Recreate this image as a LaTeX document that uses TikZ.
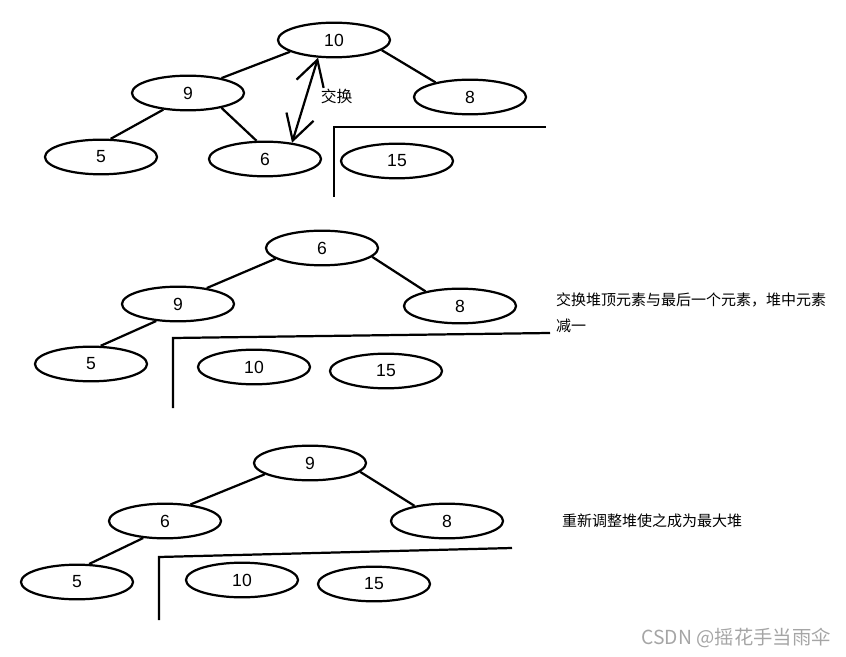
\documentclass[tikz,border=0pt]{standalone}
\usepackage{fontspec}
\usepackage{xcolor}
\setmainfont{Liberation Sans}
\newfontfamily\cjk{Noto Sans CJK SC}
\usetikzlibrary{arrows.meta, shapes.geometric}
\definecolor{markgray}{RGB}{165,165,165}

\begin{document}
\begin{tikzpicture}[
    x=0.03cm, y=-0.03cm,
    font=\fontsize{15}{17}\selectfont,
    heap/.style={ellipse, draw, line width=1.9pt, minimum width=3.36cm,
                 minimum height=1.04cm, inner sep=0pt},
    link/.style={line width=1.9pt},
    exch/.style={line width=1.9pt,
                 {Straight Barb[length=7.5mm, width=8.5mm]}-{Straight Barb[length=7.5mm, width=8.5mm]}},
    wall/.style={line width=1.9pt},
    note/.style={anchor=west, font=\cjk\fontsize{12.8}{22}\selectfont,
                 align=left, inner sep=0pt},
  ]
  \useasboundingbox (0,0) rectangle (846,657);
  % step 1: before the swap
    \node[heap] (a10) at (334,40)  {10};
    \node[heap] (a9)  at (188,93)  {9};
    \node[heap] (a8)  at (470,97)  {8};
    \node[heap] (a5)  at (101,157) {5};
    \node[heap] (a6)  at (265,159) {6};
    \node[heap] (a15) at (397,161) {15};
    \draw[link] (a10.195) -- (a9.24);
    \draw[link] (a10.348) -- (a8.157);
    \draw[link] (a9.214) -- (a5.62);
    \draw[link] (a9.336) -- (a6.115);
    \draw[exch] (a6.31) -- (a10.228)
        node[note, pos=0.55, xshift=4mm, font=\cjk\fontsize{13.5}{16}\selectfont]
        (swaplab) {交换};
    \draw[wall] (334,197) -- (334,127) -- (546,127);
  % step 2: top and last swapped
    \node[heap] (b6)  at (322,248) {6};
    \node[heap] (b9)  at (178,304) {9};
    \node[heap] (b8)  at (460,306) {8};
    \node[heap] (b5)  at (91,364)  {5};
    \node[heap] (b10) at (254,367) {10};
    \node[heap] (b15) at (386,371) {15};
    \draw[link] (b6.193) -- (b9.29);
    \draw[link] (b6.350) -- (b8.157);
    \draw[link] (b9.218) -- (b5.62);
    \draw[wall] (173,408) -- (173,338) -- (550,333);
    \node[note] (step2) at (556,313)
        {交换堆顶元素与最后一个元素，堆中元素\\减一};
  % step 3: heap rebuilt
    \node[heap] (c9)  at (310,463) {9};
    \node[heap] (c6)  at (165,521) {6};
    \node[heap] (c8)  at (447,521) {8};
    \node[heap] (c5)  at (77,582)  {5};
    \node[heap] (c10) at (242,580) {10};
    \node[heap] (c15) at (374,584) {15};
    \draw[link] (c9.194) -- (c6.33);
    \draw[link] (c9.350) -- (c8.155);
    \draw[link] (c6.218) -- (c5.56);
    \draw[wall] (159,620) -- (159,557) -- (512,548);
    \node[note] (step3) at (562,521) {重新调整堆使之成为最大堆};
    \node[note, anchor=east, text=markgray, font=\cjk\fontsize{16.5}{18}\selectfont]
      (mark) at (831,638) {CSDN @摇花手当雨伞};
\end{tikzpicture}
\end{document}
